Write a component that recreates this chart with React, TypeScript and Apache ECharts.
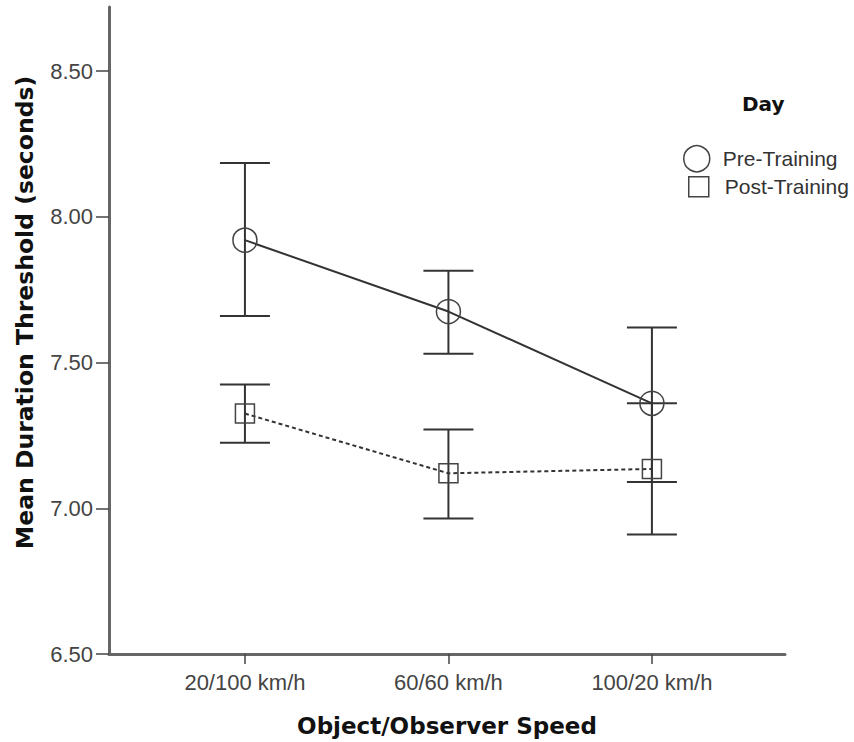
import React, { useEffect, useRef } from "react";
import * as echarts from "echarts";

const categories = ["20/100 km/h", "60/60 km/h", "100/20 km/h"];
const categoryX = [1, 2, 3];
const preMean = [7.92, 7.675, 7.36];
const preLow = [7.66, 7.53, 7.09];
const preHigh = [8.185, 7.815, 7.62];
const postMean = [7.325, 7.12, 7.135];
const postLow = [7.225, 6.965, 6.91];
const postHigh = [7.425, 7.27, 7.36];
const yTicks = [6.5, 7.0, 7.5, 8.0, 8.5];

const FONT = "'Liberation Sans', Arial, sans-serif";
const BOLD_FONT = "'DejaVu Sans', Verdana, sans-serif";
const INK = "#333";

function errorBarSeries(name: string, low: number[], high: number[]) {
  return {
    type: "custom",
    name: name + " CI",
    silent: true,
    z: 1,
    data: categoryX.map((x, i) => [x, low[i], high[i]]),
    encode: { x: 0, y: [1, 2] },
    renderItem: (_params: any, api: any) => {
      const x = api.value(0);
      const lo = api.coord([x, api.value(1)]);
      const hi = api.coord([x, api.value(2)]);
      const hw = 25;
      const style = { stroke: INK, lineWidth: 2 };
      return {
        type: "group",
        children: [
          { type: "line", shape: { x1: lo[0], y1: lo[1], x2: hi[0], y2: hi[1] }, style },
          { type: "line", shape: { x1: lo[0] - hw, y1: lo[1], x2: lo[0] + hw, y2: lo[1] }, style },
          { type: "line", shape: { x1: hi[0] - hw, y1: hi[1], x2: hi[0] + hw, y2: hi[1] }, style },
        ],
      };
    },
  };
}

const legendText = { fontFamily: FONT, fontSize: 21, color: INK };

export default function App() {
  const ref = useRef<HTMLDivElement>(null);
  useEffect(() => {
    if (!ref.current) return;
    const chart = echarts.init(ref.current, undefined, { renderer: "svg" });
    chart.setOption({
      animation: false,
      backgroundColor: "#fff",
      textStyle: { fontFamily: FONT },
      title: {
        text: "Day",
        left: 737,
        top: 89,
        textStyle: { fontFamily: BOLD_FONT, fontWeight: "bold", fontSize: 20, color: "#111" },
      },
      legend: [
        {
          orient: "vertical",
          left: 683,
          top: 145,
          padding: 0,
          itemWidth: 30,
          itemHeight: 26,
          textStyle: { ...legendText, padding: [0, 0, 0, 6] },
          data: [
            { name: "Pre-Training", icon: "circle", itemStyle: { color: "transparent", borderColor: "#444", borderWidth: 1.5 } },
          ],
        },
        {
          orient: "vertical",
          left: 688,
          top: 176,
          padding: 0,
          itemWidth: 20,
          itemHeight: 20,
          textStyle: { ...legendText, padding: [0, 0, 0, 11] },
          data: [
            { name: "Post-Training", icon: "rect", itemStyle: { color: "transparent", borderColor: "#444", borderWidth: 1.5 } },
          ],
        },
      ],
      grid: { left: 109, right: 69, top: 7, bottom: 87, containLabel: false },
      xAxis: {
        type: "value",
        min: 0.332,
        max: 3.654,
        name: "Object/Observer Speed",
        nameLocation: "middle",
        nameGap: 60,
        nameTextStyle: { fontFamily: BOLD_FONT, fontWeight: "bold", fontSize: 23, color: "#111" },
        splitLine: { show: false },
        axisLine: { lineStyle: { color: "#666", width: 3 } },
        axisTick: { show: true, customValues: categoryX, length: 10, lineStyle: { color: "#444", width: 1.5 } },
        axisLabel: {
          customValues: categoryX,
          margin: 17,
          fontSize: 22,
          color: "#444",
          fontFamily: FONT,
          formatter: (v: number) => categories[Math.round(v) - 1] ?? "",
        },
      },
      yAxis: {
        type: "value",
        min: 6.5,
        max: 8.72,
        name: "Mean Duration Threshold (seconds)",
        nameLocation: "middle",
        nameGap: 72,
        nameRotate: 90,
        nameTextStyle: { fontFamily: BOLD_FONT, fontWeight: "bold", fontSize: 23.5, color: "#111", padding: [0, 0, 0, 36] },
        splitLine: { show: false },
        axisLine: { show: true, lineStyle: { color: "#666", width: 3 } },
        axisTick: { show: true, customValues: yTicks, length: 13, lineStyle: { color: "#444", width: 1.5 } },
        axisLabel: {
          customValues: yTicks,
          margin: 16,
          fontSize: 22,
          color: "#444",
          fontFamily: FONT,
          formatter: (v: number) => v.toFixed(2),
        },
      },
      series: [
        errorBarSeries("Pre-Training", preLow, preHigh),
        errorBarSeries("Post-Training", postLow, postHigh),
        {
          name: "Pre-Training",
          type: "line",
          z: 3,
          data: categoryX.map((x, i) => [x, preMean[i]]),
          symbol: "circle",
          symbolSize: 24,
          itemStyle: { color: "transparent", borderColor: "#444", borderWidth: 1.5 },
          lineStyle: { color: INK, width: 2, type: "solid" },
        },
        {
          name: "Post-Training",
          type: "line",
          z: 3,
          data: categoryX.map((x, i) => [x, postMean[i]]),
          symbol: "rect",
          symbolSize: 19,
          itemStyle: { color: "transparent", borderColor: "#444", borderWidth: 1.5 },
          lineStyle: { color: INK, width: 2, type: [4, 3] },
        },
      ],
    });
    return () => chart.dispose();
  }, []);
  return (
    <div
      ref={ref}
      style={{ position: "fixed", left: 0, top: 0, width: 854, height: 742 }}
    />
  );
}
